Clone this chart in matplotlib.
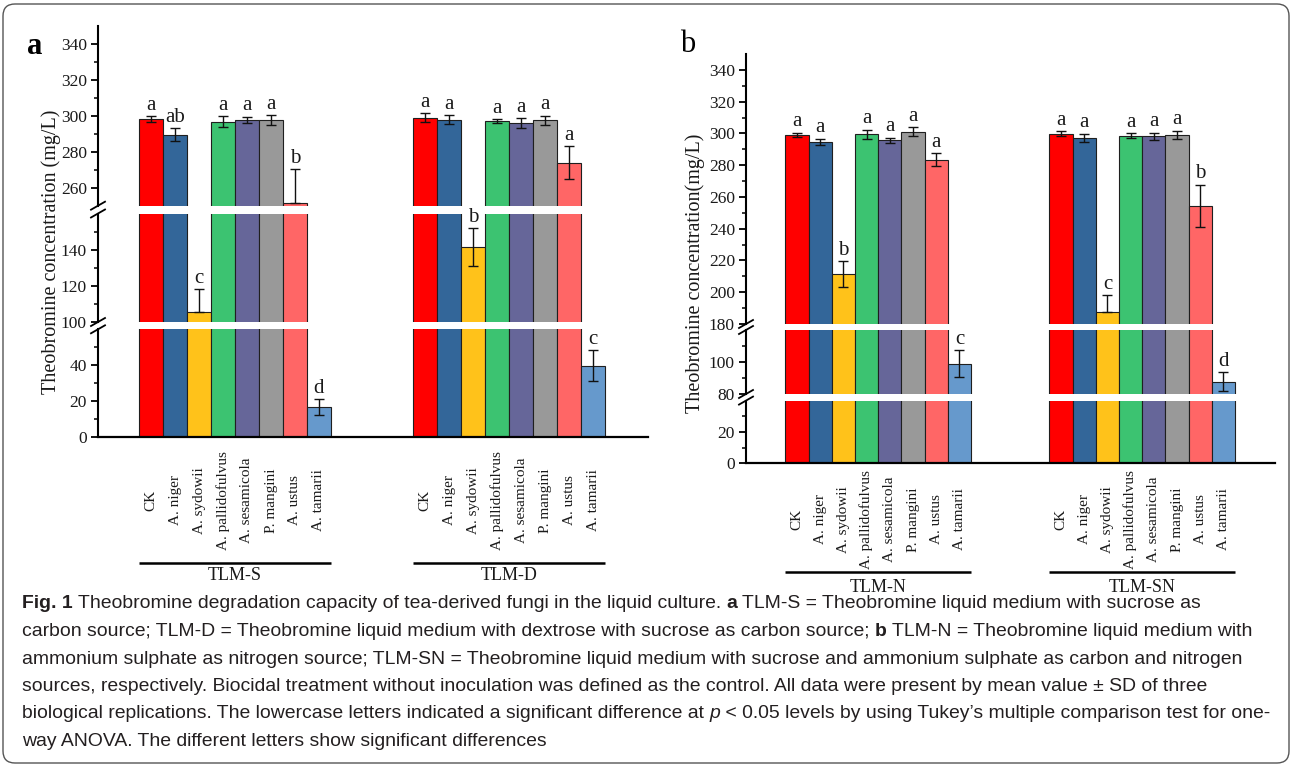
import matplotlib
matplotlib.use('Agg')
import matplotlib.pyplot as plt
import matplotlib.transforms as mtransforms
from matplotlib.patches import FancyBboxPatch
from matplotlib.lines import Line2D

W, H = 1292, 767
DPI = 100

# ---------------- data ----------------
categories = ['CK', 'A. niger', 'A. sydowii', 'A. pallidofulvus',
              'A. sesamicola', 'P. mangini', 'A. ustus', 'A. tamarii']
colors = ['#FF0000', '#336699', '#FFC21A', '#3CC371',
          '#666699', '#999999', '#FF6666', '#6699CC']

tlm_s_mean = [298.0, 289.3, 105.7, 296.7, 297.6, 297.6, 251.7, 16.7]
tlm_s_sd = [1.7, 3.6, 12.5, 3.1, 1.8, 2.8, 18.7, 4.5]
tlm_s_letters = ['a', 'ab', 'c', 'a', 'a', 'a', 'b', 'd']

tlm_d_mean = [298.9, 297.8, 141.3, 297.1, 295.8, 297.4, 273.9, 39.8]
tlm_d_sd = [2.4, 2.4, 10.5, 1.1, 2.8, 2.7, 9.3, 8.5]
tlm_d_letters = ['a', 'a', 'b', 'a', 'a', 'a', 'a', 'c']

tlm_n_mean = [299.1, 294.8, 211.5, 299.5, 295.7, 301.1, 283.5, 98.9]
tlm_n_sd = [1.4, 1.8, 8.0, 2.9, 1.6, 3.0, 3.9, 8.5]
tlm_n_letters = ['a', 'a', 'b', 'a', 'a', 'a', 'a', 'c']

tlm_sn_mean = [299.9, 297.4, 187.7, 298.6, 298.2, 299.2, 254.3, 87.7]
tlm_sn_sd = [1.7, 2.5, 10.4, 1.7, 2.4, 2.6, 13.5, 6.0]
tlm_sn_letters = ['a', 'a', 'c', 'a', 'a', 'a', 'b', 'd']

# y-axis segments (broken axis): (low, high, major ticks, minor ticks)
seg_a = [(250, 350, [260, 280, 300, 320, 340], [270, 290, 310, 330]),
         (100, 160, [100, 120, 140], [110, 130, 150]),
         (0, 60, [0, 20, 40], [10, 30, 50])]
seg_b = [(180, 350, [180, 200, 220, 240, 260, 280, 300, 320, 340],
          [190, 210, 230, 250, 270, 290, 310, 330]),
         (80, 120, [80, 100], [90, 110]),
         (0, 40, [0, 20], [10, 30])]

# ---------------- figure ----------------
plt.rcParams['font.family'] = ['Liberation Serif', 'DejaVu Serif']
fig = plt.figure(figsize=(W / DPI, H / DPI), dpi=DPI)
fig.patch.set_facecolor('white')

TXT = '#1a1a1a'


def px_axes(x0, x1, ytop, ybot):
    return fig.add_axes([x0 / W, 1 - ybot / H, (x1 - x0) / W, (ybot - ytop) / H])


def off_trans(ax, dy_px):
    return (mtransforms.blended_transform_factory(ax.transData, ax.transAxes)
            + mtransforms.ScaledTranslation(0, -dy_px / DPI, fig.dpi_scale_trans))


panels = [
    dict(x0=98, x1=648, bw=24.0, starts=[(151 - 98) / 24.0, (425.3 - 98) / 24.0],
         segs=seg_a, seg_px=[(25.7, 205.7), (213.5, 322.0), (329.3, 437.3)],
         groups=[('TLM-S', tlm_s_mean, tlm_s_sd, tlm_s_letters),
                 ('TLM-D', tlm_d_mean, tlm_d_sd, tlm_d_letters)],
         cat_dy=63, line_dy=125.4, grp_dy=138,
         ylabel='Theobromine concentration (mg/L)', ylabel_xy=(51.5, 252),
         tag='a', tag_xy=(35, 46), tag_weight='bold'),
    dict(x0=746, x1=1275, bw=23.2, starts=[(797 - 746) / 23.2, (1061 - 746) / 23.2],
         segs=seg_b, seg_px=[(54.1, 324.0), (330.0, 394.0), (400.6, 463.3)],
         groups=[('TLM-N', tlm_n_mean, tlm_n_sd, tlm_n_letters),
                 ('TLM-SN', tlm_sn_mean, tlm_sn_sd, tlm_sn_letters)],
         cat_dy=56, line_dy=109, grp_dy=124,
         ylabel='Theobromine concentration(mg/L)', ylabel_xy=(695, 273),
         tag='b', tag_xy=(688, 45), tag_weight='normal'),
]

for P in panels:
    axes = []
    nseg = len(P['segs'])
    xmax = (P['x1'] - P['x0']) / P['bw']
    for k, ((lo, hi, majors, minors), (yt, yb)) in enumerate(zip(P['segs'], P['seg_px'])):
        ax = px_axes(P['x0'], P['x1'], yt, yb)
        axes.append(ax)
        ax.set_xlim(0, xmax)
        ax.set_ylim(lo, hi)
        ax.patch.set_alpha(0)
        for s in ('top', 'right'):
            ax.spines[s].set_visible(False)
        ax.spines['left'].set_linewidth(1.5)
        if k == nseg - 1:
            ax.spines['bottom'].set_linewidth(1.6)
        else:
            ax.spines['bottom'].set_visible(False)
        ax.set_xticks([])
        ax.set_yticks(majors)
        ax.set_yticks(minors, minor=True)
        ax.set_yticklabels([str(v) for v in majors])
        ax.tick_params(axis='y', which='major', direction='out', length=5, width=1.3,
                       labelsize=12.5, pad=3, colors='k', labelcolor=TXT)
        ax.tick_params(axis='y', which='minor', direction='out', length=3, width=1.1)

        for gi, (gname, means, sds, letters) in enumerate(P['groups']):
            g0 = P['starts'][gi]
            xs = [g0 + i for i in range(len(categories))]
            ax.bar(xs, means, width=1.0, color=colors, edgecolor='#1f1f1f',
                   linewidth=0.8, zorder=2)
            for x, m, sd, let in zip(xs, means, sds, letters):
                if lo <= m <= hi:
                    lower = sd if (m - sd) >= lo else 0.0
                    ax.errorbar([x], [m], yerr=[[lower], [sd]], fmt='none',
                                ecolor='#111111', elinewidth=1.0, capsize=3.5,
                                capthick=1.0, zorder=3, clip_on=False)
                    ax.annotate(let, (x, m + sd), xytext=(0, 1.0),
                                textcoords='offset points', ha='center', va='bottom',
                                fontsize=15, color=TXT, annotation_clip=False)

    # break marks
    x0 = P['x0']
    for k in range(nseg - 1):
        for y in (P['seg_px'][k][1], P['seg_px'][k + 1][0]):
            fig.add_artist(Line2D([(x0 - 7) / W, (x0 + 7) / W],
                                  [1 - (y + 4) / H, 1 - (y - 4) / H],
                                  transform=fig.transFigure, color='k', lw=1.3))

    # category labels, group lines and names under the lowest segment
    axb = axes[-1]
    for gi, (gname, means, sds, letters) in enumerate(P['groups']):
        g0 = P['starts'][gi]
        for i, name in enumerate(categories):
            axb.text(g0 + i, 0, name, transform=off_trans(axb, P['cat_dy']),
                     rotation=90, ha='center', va='center', fontsize=11, color=TXT)
        axb.plot([g0 - 0.5, g0 + len(categories) - 0.5], [0, 0],
                 transform=off_trans(axb, P['line_dy']), color='k', lw=1.8,
                 clip_on=False, solid_capstyle='butt')
        axb.text(g0 + (len(categories) - 1) / 2, 0, gname,
                 transform=off_trans(axb, P['grp_dy']), ha='center', va='center',
                 fontsize=13, color=TXT)

    fig.text(P['ylabel_xy'][0] / W, 1 - P['ylabel_xy'][1] / H, P['ylabel'],
             rotation=90, ha='center', va='center', fontsize=14.5, color=TXT)
    fig.text(P['tag_xy'][0] / W, 1 - P['tag_xy'][1] / H, P['tag'],
             ha='center', va='center', fontsize=22, fontweight=P['tag_weight'], color='k')

# ---------------- caption ----------------
cap_family = ['Liberation Sans Narrow', 'Liberation Sans', 'DejaVu Sans']
caption_lines = [
    [('Fig. 1', 'bold', 'normal'),
     (' Theobromine degradation capacity of tea-derived fungi in the liquid culture. ', 'normal', 'normal'),
     ('a', 'bold', 'normal'),
     (' TLM-S = Theobromine liquid medium with sucrose as', 'normal', 'normal')],
    [('carbon source; TLM-D = Theobromine liquid medium with dextrose with sucrose as carbon source; ', 'normal', 'normal'),
     ('b', 'bold', 'normal'),
     (' TLM-N = Theobromine liquid medium with', 'normal', 'normal')],
    [('ammonium sulphate as nitrogen source; TLM-SN = Theobromine liquid medium with sucrose and ammonium sulphate as carbon and nitrogen', 'normal', 'normal')],
    [('sources, respectively. Biocidal treatment without inoculation was defined as the control. All data were present by mean value \u00b1 SD of three', 'normal', 'normal')],
    [('biological replications. The lowercase letters indicated a significant difference at ', 'normal', 'normal'),
     ('p', 'normal', 'italic'),
     (' < 0.05 levels by using Tukey\u2019s multiple comparison test for one-', 'normal', 'normal')],
    [('way ANOVA. The different letters show significant differences', 'normal', 'normal')],
]

fig.canvas.draw()
renderer = fig.canvas.get_renderer()


def run_width(s, size, weight, style):
    t1 = fig.text(0, 0, 'x' + s + 'x', fontsize=size, fontweight=weight,
                  fontstyle=style, family=cap_family)
    t2 = fig.text(0, 0, 'xx', fontsize=size, fontweight=weight,
                  fontstyle=style, family=cap_family)
    w = t1.get_window_extent(renderer).width - t2.get_window_extent(renderer).width
    t1.remove()
    t2.remove()
    return w


base = 10.0
widths = [sum(run_width(s, base, wt, st) for s, wt, st in runs) for runs in caption_lines]
cap_size = base * min(1206.0 / widths[0], 1255.0 / max(widths))

x_start = 22.0
for li, runs in enumerate(caption_lines):
    x = x_start
    ybase = 603 + 27.5 * li + 5.5
    for s, wt, st in runs:
        fig.text(x / W, 1 - ybase / H, s, fontsize=cap_size, fontweight=wt,
                 fontstyle=st, family=cap_family, ha='left', va='baseline',
                 color='#231f20')
        x += run_width(s, cap_size, wt, st)

# outer rounded border
fig.add_artist(FancyBboxPatch((3 / DPI, (H - 763) / DPI), 1286 / DPI, 759 / DPI,
                              boxstyle='round,pad=0,rounding_size=0.12',
                              transform=fig.dpi_scale_trans, fill=False,
                              edgecolor='#555555', linewidth=1.0))

fig.savefig('out.png', dpi=DPI, facecolor='white')
